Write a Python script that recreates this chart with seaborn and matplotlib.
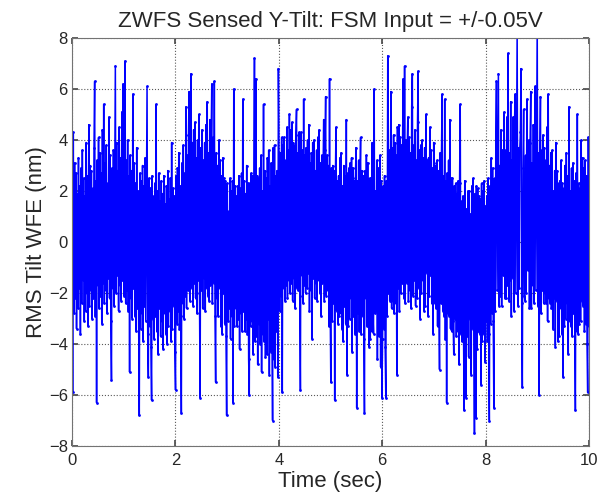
import numpy as np
import pandas as pd
import matplotlib
matplotlib.use('Agg')
import matplotlib.pyplot as plt
import seaborn as sns

# sensed tilt samples (nm), one list per second of data, 80 samples / sec
sec_0 = [2.4, -5.9, 4.3, -2.8, 3.1, -2.2, 2.7, -3.4, 1.9, -2.6,
         3.3, -1.8, 2.2, -3.6, 2.9, -2.4, 3.6, -1.5, 2.5, -3.1,
         1.8, -2.7, 3.9, -2.0, 2.6, -3.3, 4.6, -2.5, 3.0, -1.9,
         2.8, -3.0, 2.1, -2.2, 3.7, 6.3, -2.9, 2.4, -6.3, 3.2,
         -1.7, 4.1, -2.6, 3.5, -2.1, 2.7, -3.2, 4.4, -1.6, 5.4,
         -2.4, 3.1, -1.9, 3.8, -2.8, 2.3, -1.4, 4.9, -2.2, 3.4,
         -3.1, -5.4, 2.9, -1.8, 3.6, -2.5, 2.2, 6.9, -2.0, 3.9,
         -1.3, 2.8, -2.7, 4.5, -1.7, 3.3, -2.3, 5.1, -1.5, 6.2]
sec_1 = [-2.1, 3.6, 7.1, -2.4, 3.2, -1.9, 4.0, -2.7, 2.6, -5.1,
         3.4, -2.2, 2.8, -3.0, 5.8, -1.8, 3.1, -2.9, 2.3, -3.5,
         3.7, -2.6, 2.0, -3.2, -6.8, 2.7, -3.4, 2.4, -2.8, 3.0,
         -3.9, 2.2, -2.5, 3.3, -3.1, 1.9, 6.1, -3.6, -5.3, 2.5,
         -3.3, 2.1, -4.1, -6.2, 2.6, -3.0, 1.8, -3.8, 2.3, -2.9,
         5.4, -3.5, 2.0, -4.4, 2.7, -2.6, 1.6, -3.7, 2.4, -3.1,
         1.9, -4.2, 2.6, -2.8, 1.5, -3.6, 2.2, -4.0, 2.8, -3.3,
         1.7, -2.7, 2.5, -3.9, 3.9, -3.4, 2.1, -2.5, 1.8, -4.3]
sec_2 = [-5.8, 2.6, -3.2, 2.9, -2.7, 3.5, -3.4, 2.2, -2.9, -6.7,
         3.1, -2.4, 3.8, -3.0, 2.7, -2.1, 5.3, -2.6, 3.4, -1.9,
         4.2, 5.9, -2.3, 3.6, 6.6, -1.8, 3.9, -2.5, 4.4, -1.6,
         4.7, -2.2, 3.3, -2.8, 4.0, -1.5, 5.0, -2.0, -6.1, 3.7,
         -1.9, 4.4, -2.6, 3.2, -1.4, 3.9, -2.7, 4.6, -1.8, 5.5,
         -2.1, 3.5, -2.3, 4.8, -1.7, 3.8, 6.2, -2.4, 4.1, -1.6,
         6.3, -2.9, -5.5, 3.5, -2.2, 3.0, -2.9, 4.0, -1.8, 3.2,
         -3.3, 2.6, -3.6, 3.3, -2.0, 2.5, -3.2, 2.4, -3.7, -6.8]
sec_3 = [2.3, -3.1, 1.2, -2.6, 2.5, -3.8, 2.0, -2.9, 2.4, -6.3,
         6.0, -3.3, 2.2, -2.6, 1.8, -3.3, 2.2, -3.0, 2.6, -4.2,
         2.1, -2.8, 2.7, -3.5, 5.6, -2.7, 2.4, -3.5, 1.9, -3.0,
         3.0, -3.6, 2.3, -4.6, -6.0, 2.3, -3.3, 2.7, -3.1, 2.6,
         -4.4, 2.1, 7.2, -3.9, 6.4, -3.7, 2.6, -4.8, 2.5, -3.2,
         2.9, -4.0, 3.4, -5.1, 2.0, -3.6, 5.4, -3.9, 2.8, -4.5,
         2.5, -4.4, 3.3, -3.0, 3.6, -5.2, 2.2, -4.3, 3.1, -3.4,
         -7.0, 3.7, -4.6, 3.8, -4.9, 2.6, -3.5, 2.8, -5.3, 6.8]
sec_4 = [3.3, -2.7, 3.5, -2.1, 4.1, -5.9, 3.8, -1.8, 4.1, -2.3,
         3.2, -1.7, 4.5, -2.2, 3.6, -1.5, 5.0, -2.0, 4.4, -1.6,
         4.7, -2.3, 3.9, -1.4, 3.8, -2.6, 4.2, 5.2, -1.8, 3.5,
         -1.9, 4.3, -2.1, -5.8, 4.3, -1.3, 3.6, -2.4, 5.6, -1.7,
         3.4, -2.0, 3.7, -1.8, 4.0, -1.2, 4.6, -2.7, 3.1, -1.9,
         3.5, -3.8, 3.9, -1.4, 4.0, -2.2, 2.8, -1.6, 3.6, -2.3,
         4.1, -1.5, 4.4, -2.0, 3.1, -2.9, 3.4, -1.6, 2.7, 4.8,
         -2.3, 3.6, 5.7, -2.1, 3.4, -1.9, 3.0, -3.3, 6.4, -2.4]
sec_5 = [-5.5, 2.9, -3.1, 3.0, -2.4, 2.8, -6.2, 2.3, 4.5, -2.7,
         2.4, -3.2, 2.6, -2.9, 3.3, -2.8, 3.5, -3.4, 2.2, -3.9,
         3.0, -2.5, 2.6, -3.2, 4.8, -5.2, 2.7, -3.3, 2.9, -3.0,
         3.1, -2.2, 3.3, -4.3, 2.9, -2.9, 2.4, -3.6, 2.5, 3.7,
         -6.5, 2.4, -2.8, 3.2, -3.5, 2.3, 4.1, -3.6, 2.8, -2.9,
         2.6, -3.8, -6.7, 2.8, -2.2, 3.4, -3.3, 3.1, -2.0, -4.1,
         2.5, -3.8, 2.5, -3.5, 3.9, -2.7, -3.6, 6.0, -2.8, 2.0,
         -2.7, 3.2, -4.6, 2.9, -3.7, 2.0, 3.4, -4.9, 2.4, -6.1]
sec_6 = [-3.8, 2.2, -3.4, 2.6, -4.1, -6.1, 2.4, -2.9, 7.3, -2.0,
         3.6, -2.3, 3.0, 5.9, -2.6, 3.7, -2.3, 4.2, -2.8, 3.9,
         -2.4, 3.4, -5.2, 4.5, -1.8, 4.6, -2.7, 4.1, -2.0, 3.8,
         -1.6, 4.3, 6.4, -2.2, 6.9, -2.4, 4.0, -1.6, 3.6, 4.9,
         -2.3, 4.1, -1.9, 3.5, -2.6, 5.3, 6.6, -2.1, 3.8, -1.5,
         4.4, -2.5, 3.2, -2.2, 4.7, 6.7, -1.8, 3.6, -3.0, 3.8,
         -2.0, 4.0, -1.5, 3.3, -2.7, 3.7, -2.5, 5.0, -1.2, 3.2,
         -2.9, 3.3, -2.1, 4.5, -1.3, 3.6, -2.4, 2.9, -3.6, 3.9]
sec_7 = [3.1, -2.4, 3.0, -2.6, 3.2, -3.3, 2.8, -2.1, -5.0, 3.5,
         -2.4, 3.3, 5.8, -2.7, 2.6, -2.9, 5.6, -3.8, 2.4, -6.3,
         2.7, -2.8, 3.2, -2.9, 4.8, -3.4, 2.5, -3.5, 2.5, -3.1,
         -4.4, 2.2, -3.0, 2.3, -3.7, 1.9, -3.5, 2.4, -4.8, 2.3,
         5.4, -3.6, 1.6, -3.9, 1.8, -3.1, -6.6, 2.4, -3.2, -6.1,
         1.3, -3.7, 2.0, -4.5, 2.0, -3.0, 1.1, -5.2, 2.2, -3.4,
         2.5, -3.4, -7.5, 1.9, -6.9, 2.2, -4.2, 2.1, -3.5, 1.8,
         -3.6, 1.7, -5.6, 2.3, -3.9, 2.0, -3.6, 2.4, -4.7, 1.4]
sec_8 = [-3.1, 1.8, -3.9, 2.5, -3.6, -7.0, 2.2, -3.2, 3.3, -2.8,
         2.9, -3.1, -6.5, 2.5, -2.7, 3.9, 6.3, -1.9, 2.4, 6.6,
         -2.5, 3.0, -2.1, 4.4, -2.5, 3.6, -1.3, 2.8, 5.1, -2.2,
         3.6, -2.2, 4.9, -1.7, 7.4, -2.3, 3.5, -1.5, 5.5, -2.9,
         3.2, -1.4, 4.9, -2.7, 4.8, 5.8, -2.0, 3.2, 8.4, -2.5,
         3.7, -1.8, 3.6, 4.3, 6.8, -2.4, -5.7, 2.9, 5.2, -2.1,
         -2.3, 3.4, -2.0, 5.6, -1.1, 3.7, 4.0, -2.6, 3.9, 5.9,
         -2.6, 3.1, -1.7, 4.6, -2.4, 4.0, 6.1, -1.9, 3.5, 8.6]
sec_9 = [-2.5, 3.5, -6.0, 3.3, 5.7, -2.8, 3.6, -1.9, 4.2, -2.4,
         3.7, -2.0, 3.2, -2.4, 4.5, -3.1, 5.8, -2.2, 3.0, -2.4,
         3.5, -2.6, 3.6, -3.4, 2.0, -2.2, 2.8, -4.1, 3.9, -2.3,
         2.8, -3.9, 2.3, -3.7, 2.4, -2.6, 3.2, -3.6, 2.3, -5.3,
         2.1, -3.3, 3.0, -3.0, 3.5, -2.4, 2.6, -4.4, 5.3, -3.1,
         2.0, -3.3, 2.9, -3.7, 3.1, -2.8, 2.4, -3.4, -6.6, 2.7,
         -3.5, 5.0, -3.6, 2.3, -3.2, 2.1, -3.1, 4.0, -2.3, 3.3,
         -2.5, 2.9, -3.5, 3.2, -3.2, 2.6, -4.0, -5.9, 4.1, -3.3]

duration = 10.0  # sec
xticks = [0, 2, 4, 6, 8, 10]
yticks = [-8, -6, -4, -2, 0, 2, 4, 6, 8]

tilt = np.array(sec_0 + sec_1 + sec_2 + sec_3 + sec_4 + sec_5 + sec_6 + sec_7 + sec_8 + sec_9)
df = pd.DataFrame({'time': np.linspace(0, duration, len(tilt)), 'tilt': tilt})

sns.set_theme(style='ticks')
plt.rcParams['font.family'] = ['Liberation Sans', 'DejaVu Sans']

fig = plt.figure(figsize=(6.01, 4.98), dpi=100)
ax = fig.add_axes([0.1198, 0.1044, 0.8602, 0.8193])

sns.lineplot(data=df, x='time', y='tilt', ax=ax, estimator=None, sort=False,
             color='#0000ff', linewidth=1.1, marker='.', markersize=4,
             markeredgewidth=0, markerfacecolor='#0000ff')

ax.set_xlim(0, duration)
ax.set_ylim(-8, 8)
ax.set_xticks(xticks)
ax.set_yticks(yticks)
ax.grid(True, linestyle=':', color='0.35', linewidth=0.8)
ax.tick_params(direction='in', top=True, right=True, labelsize=12, length=4, color='0.3')
ax.tick_params(axis='x', pad=5)
ax.tick_params(axis='y', pad=3)
for s in ax.spines.values():
    s.set_color('0.45')
    s.set_linewidth(0.8)

ax.set_xlabel('Time (sec)', fontsize=16, labelpad=2)
ax.set_ylabel('RMS Tilt WFE (nm)', fontsize=16, labelpad=1)
ax.set_title('ZWFS Sensed Y-Tilt: FSM Input = +/-0.05V', fontsize=16, pad=8)

fig.savefig('out.png', dpi=100)
